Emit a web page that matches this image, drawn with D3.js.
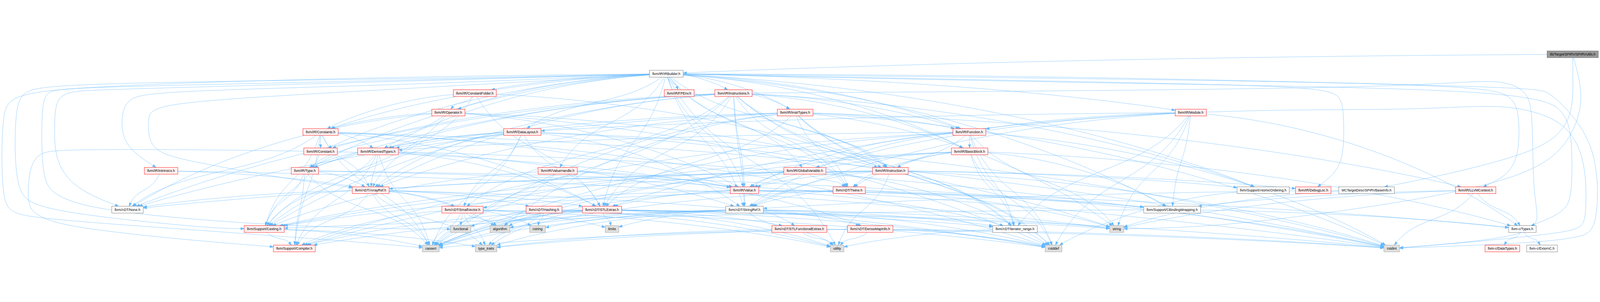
<!DOCTYPE html>
<html>
<head>
<meta charset="utf-8">
<title>lib/Target/SPIRV/SPIRVUtils.h include graph</title>
<script src="https://cdn.jsdelivr.net/npm/d3@7"></script>
<style>
  html, body { margin: 0; padding: 0; background: #ffffff; overflow: hidden; }
  svg { display: block; width: 100vw; height: 100vh; }
  .node text { font-family: "Liberation Sans", Arial, Helvetica, sans-serif; font-size: 13px; fill: #000; }
</style>
</head>
<body>
<svg id="graph"></svg>
<script>
// headers in the graph
var nodeIds = ["root", "irb", "cfold", "fpenv", "instrs", "oper", "itypes", "module", "consts", "dlayout",
    "func", "const", "dtypes", "bb", "type", "intr", "vh", "gvar", "instr", "aref",
    "value", "twine", "atomic", "dloc", "spbase", "ctx", "none", "svec", "hash", "stlx",
    "sref", "cbw", "cast", "functional", "algorithm", "cstring", "limits", "stlfx", "dmi", "irange",
    "string", "ctypes", "compiler", "cassert", "ttraits", "utility", "cstddef", "cstdint", "datatypes", "externc"];

var nodeLabels = ["lib/Target/SPIRV/SPIRVUtils.h", "llvm/IR/IRBuilder.h", "llvm/IR/ConstantFolder.h", "llvm/IR/FPEnv.h",
    "llvm/IR/Instructions.h", "llvm/IR/Operator.h", "llvm/IR/InstrTypes.h", "llvm/IR/Module.h", "llvm/IR/Constants.h",
    "llvm/IR/DataLayout.h", "llvm/IR/Function.h", "llvm/IR/Constant.h", "llvm/IR/DerivedTypes.h", "llvm/IR/BasicBlock.h",
    "llvm/IR/Type.h", "llvm/IR/Intrinsics.h", "llvm/IR/ValueHandle.h", "llvm/IR/GlobalVariable.h", "llvm/IR/Instruction.h",
    "llvm/ADT/ArrayRef.h", "llvm/IR/Value.h", "llvm/ADT/Twine.h", "llvm/Support/AtomicOrdering.h", "llvm/IR/DebugLoc.h",
    "MCTargetDesc/SPIRVBaseInfo.h", "llvm/IR/LLVMContext.h", "llvm/ADT/None.h", "llvm/ADT/SmallVector.h", "llvm/ADT/Hashing.h",
    "llvm/ADT/STLExtras.h", "llvm/ADT/StringRef.h", "llvm/Support/CBindingWrapping.h", "llvm/Support/Casting.h", "functional",
    "algorithm", "cstring", "limits", "llvm/ADT/STLFunctionalExtras.h", "llvm/ADT/DenseMapInfo.h", "llvm/ADT/iterator_range.h",
    "string", "llvm-c/Types.h", "llvm/Support/Compiler.h", "cassert", "type_traits", "utility", "cstddef", "cstdint",
    "llvm-c/DataTypes.h", "llvm-c/ExternC.h"];

// root = file itself, red = truncated, plain = complete, sys = system header
var nodeKinds = ["root", "plain", "red", "red", "red", "red", "red", "red", "red", "red",
    "red", "red", "red", "red", "red", "red", "red", "red", "red", "red",
    "red", "red", "plain", "red", "plain", "red", "plain", "red", "red", "red",
    "plain", "plain", "red", "sys", "sys", "sys", "sys", "red", "red", "plain",
    "sys", "plain", "red", "sys", "sys", "sys", "sys", "sys", "red", "plain"];

var nodeRanks = [0, 1, 2, 2, 2, 3, 3, 3, 4, 4,
    4, 5, 5, 5, 6, 6, 6, 6, 6, 7,
    7, 7, 7, 7, 7, 7, 8, 8, 8, 8,
    8, 8, 9, 9, 9, 9, 9, 9, 9, 9,
    9, 9, 10, 10, 10, 10, 10, 10, 10, 10];

// #include lists
var includes = {
    root: ["irb", "spbase", "string"],
    irb: ["ctypes", "aref", "none", "stlx", "sref", "twine", "bb", "const", "cfold", "consts", "dlayout", "dloc",
        "dtypes", "fpenv", "func", "gvar", "itypes", "instr", "instrs", "intr", "ctx", "module", "oper", "type",
        "value", "vh", "atomic", "cbw", "cast", "cassert", "cstdint", "functional", "utility"],
    cfold: ["oper", "consts", "instr", "aref", "stlx"],
    oper: ["none", "consts", "instr", "type", "value", "cast", "cstddef"],
    consts: ["aref", "none", "stlx", "const", "dtypes", "value", "cast", "compiler", "cassert", "cstddef", "cstdint"],
    const: ["value", "cast", "compiler"],
    dtypes: ["aref", "stlx", "sref", "type", "cast", "compiler", "cassert", "cstdint"],
    type: ["aref", "cbw", "cast", "compiler", "cassert", "cstdint"],
    intr: ["none", "aref", "string"],
    dlayout: ["aref", "stlx", "svec", "sref", "dtypes", "type", "cast", "cassert", "cstdint", "string"],
    vh: ["dmi", "value", "cast", "cassert"],
    instrs: ["aref", "none", "stlx", "svec", "sref", "twine", "irange", "bb", "const", "dtypes", "func", "itypes",
        "instr", "type", "value", "atomic", "cast", "cassert", "cstddef", "cstdint"],
    itypes: ["aref", "none", "stlx", "twine", "irange", "dtypes", "func", "instr", "ctx", "algorithm", "cassert",
        "cstddef", "cstdint", "string"],
    module: ["ctypes", "stlx", "sref", "irange", "dlayout", "func", "gvar", "cbw", "cstddef", "cstdint", "string"],
    func: ["sref", "twine", "irange", "bb", "dtypes", "value", "compiler", "cassert", "cstddef", "cstdint", "string"],
    bb: ["ctypes", "twine", "irange", "instr", "value", "cbw", "compiler", "cassert", "cstddef"],
    gvar: ["twine", "value", "cast", "cassert", "cstddef"],
    instr: ["aref", "none", "sref", "dloc", "value", "atomic", "cast", "cstdint", "utility"],
    value: ["ctypes", "stlx", "sref", "irange", "cbw", "cast", "cassert"],
    twine: ["svec", "sref", "cassert", "cstdint", "string"],
    aref: ["hash", "none", "svec", "stlx", "compiler", "algorithm", "cassert", "cstddef", "ttraits"],
    svec: ["compiler", "algorithm", "cassert", "cstddef", "cstring", "functional", "limits", "ttraits", "utility"],
    stlx: ["stlfx", "irange", "compiler", "algorithm", "cassert", "cstddef", "cstdint", "functional", "limits",
        "ttraits", "utility"],
    hash: ["ttraits", "algorithm", "cassert", "cstring", "string", "utility"],
    sref: ["dmi", "stlfx", "irange", "compiler", "algorithm", "cassert", "cstddef", "cstring", "limits", "string",
        "ttraits", "utility"],
    cast: ["compiler", "ttraits", "cassert"],
    stlfx: ["ttraits", "utility", "cstdint"],
    dmi: ["cassert", "cstddef", "cstdint", "ttraits", "utility"],
    irange: ["utility"],
    cbw: ["ctypes", "cast"],
    atomic: ["cstddef"],
    ctx: ["ctypes", "cbw", "cstdint", "string"],
    ctypes: ["datatypes", "externc"],
    spbase: ["sref", "string"]
};

// layout: node centre x, and bend points [x, rank] of the routed edges
var nodeX = [5995, 2540, 1810, 2589, 2796, 1709, 3031, 4539, 1222, 1991,
    3695, 1222, 1441, 3696, 1162, 614, 2126, 3068, 3394, 1413,
    2838, 3237, 4815, 5006, 5209, 5625, 486, 1763, 2074, 2295,
    2838, 4468, 1007, 1756, 1906, 2049, 2333, 3047, 3317, 3869,
    4257, 5803, 1122, 1642, 1853, 3191, 4016, 5305, 5727, 5878];

var detours = {
    "irb>cassert": [[1500, 1.15], [60, 1.7], [5, 2.6], [5, 7.9], [60, 8.4], [700, 9.0], [1400, 9.7]],
    "irb>cast": [[1500, 1.28], [172, 1.5], [83, 1.96], [56, 2.9], [56, 7.05], [128, 7.85], [383, 8.4], [800, 8.95]],
    "irb>functional": [[1500, 1.35], [255, 1.7], [178, 1.9], [158, 2.6], [158, 6.4], [204, 7.3], [383, 8.1], [1000, 8.8], [1500, 9.0]],
    "irb>none": [[1500, 1.4], [383, 1.82], [255, 1.9], [210, 2.4], [208, 3.8], [208, 5.2], [255, 6.5], [351, 7.3]],
    "irb>intr": [[1500, 1.6], [574, 1.9], [485, 2.3], [464, 3.1], [464, 4.1], [497, 4.95]],
    "irb>aref": [[1500, 1.8], [700, 2.4], [574, 2.85], [565, 3.3], [565, 4.4], [606, 5.15], [765, 5.6], [1000, 6.2], [1200, 6.6]],
    "const>compiler": [[700, 4.9], [210, 4.9], [147, 5.1], [115, 5.8], [107, 6.8], [107, 7.9], [147, 8.35], [255, 8.9], [700, 9.55]],
    "irb>cstdint": [[4000, 1.1], [5845, 1.7], [5901, 1.9], [5986, 2.95], [6093, 5.0], [6093, 9.1], [6021, 9.4], [5880, 9.7]],
    "module>cstdint": [[4900, 2.85], [5387, 2.85], [5634, 2.65], [5775, 2.7], [5915, 3.2], [6000, 4.1], [6047, 5.8], [6047, 8.4], [6028, 9.0], [5915, 9.25], [5634, 9.65]],
    "irb>ctypes": [[4200, 1.5], [5845, 1.8], [5972, 2.95], [5993, 4.45], [5993, 7.1], [5972, 8.1]],
    "irb>ctx": [[4200, 1.25], [5634, 1.57], [5761, 2.1], [5792, 2.95], [5792, 5.3], [5739, 6.3]],
    "instrs>cstdint": [[4000, 1.9], [5282, 1.7], [5634, 1.37], [5739, 1.4], [5824, 1.9], [5843, 3.1], [5843, 7.1], [5866, 8.3], [5845, 9.4]],
    "irb>dloc": [[4500, 1.5], [5070, 1.7], [5113, 2.3], [5123, 3.1], [5123, 5.2], [5092, 6.1]],
    "root>spbase": [[5996, 1.2], [5996, 2.9], [5951, 4.1], [5845, 5.0], [5634, 5.8], [5422, 6.45]],
    "root>string": [[6025, 1.5], [6030, 2.8], [5980, 4.6], [5850, 6.1], [5500, 7.3], [5000, 8.3], [4600, 8.9]]
};

var W = 6099, H = 773;
var edgeColor = "#63b8ff";
var kindStyle = {
    root: { fill: "#999999", stroke: "#666666" },
    plain: { fill: "#ffffff", stroke: "#666666" },
    red: { fill: "#fff0f0", stroke: "#ff0000" },
    sys: { fill: "#e0e0e0", stroke: "#999999" }
};

var x = d3.scaleLinear().domain([0, W]).range([0, W]);
var y = d3.scaleLinear().domain([0, 10]).range([18, 758]);

// the drawing is laid out in 6099x773 units and scaled to the window
var svg = d3.select("#graph")
    .attr("viewBox", "0 0 " + W + " " + H)
    .attr("preserveAspectRatio", "xMidYMid meet");
svg.append("rect").attr("width", W).attr("height", H).attr("fill", "#ffffff");
var edgeLayer = svg.append("g");
var nodeLayer = svg.append("g");

var nodes = nodeIds.map(function(id, i) {
    return { id: id, label: nodeLabels[i], kind: nodeKinds[i], cx: x(nodeX[i]), cy: y(nodeRanks[i]), hh: 13 };
});
var byId = {};
nodes.forEach(function(n) { byId[n.id] = n; });

// boxes: draw text first so the box can be sized from it
var ng = nodeLayer.selectAll("g.node").data(nodes).join("g")
    .attr("class", "node")
    .attr("transform", function(d) { return "translate(" + d.cx + "," + d.cy + ")"; });
var boxes = ng.append("rect");
ng.append("text")
    .attr("text-anchor", "middle")
    .attr("dy", "0.36em")
    .text(function(d) { return d.label; })
    .each(function(d) { d.hw = this.getComputedTextLength() / 2 + 11; });
boxes.attr("x", function(d) { return -d.hw; })
    .attr("y", function(d) { return -d.hh; })
    .attr("width", function(d) { return 2 * d.hw; })
    .attr("height", function(d) { return 2 * d.hh; })
    .attr("fill", function(d) { return kindStyle[d.kind].fill; })
    .attr("stroke", function(d) { return kindStyle[d.kind].stroke; })
    .attr("stroke-width", 1.2);

// point where the line from the box centre towards p leaves the box
function clip(n, p) {
    var dx = p[0] - n.cx, dy = p[1] - n.cy;
    var t = Math.min(n.hw / Math.max(Math.abs(dx), 1e-6), n.hh / Math.max(Math.abs(dy), 1e-6), 1);
    return [n.cx + dx * t, n.cy + dy * t];
}

var edges = [];
Object.keys(includes).forEach(function(src) {
    includes[src].forEach(function(tgt) { edges.push({ source: src, target: tgt }); });
});

var basis = d3.line().curve(d3.curveBasis);
var arrowLen = 13, arrowHalf = 4.8;

edges.forEach(function(e) {
    var s = byId[e.source], t = byId[e.target];
    var key = e.source + ">" + e.target;
    var mids;
    if (detours[key]) {
        mids = detours[key].map(function(p) { return [x(p[0]), y(p[1])]; });
    } else {
        var dx = t.cx - s.cx, dy = t.cy - s.cy;
        if (Math.abs(dx) > 2.5 * dy) {
            // long sideways edges leave the box flat and drop near the target
            mids = [[s.cx + dx * 0.45, s.cy + dy * 0.12], [t.cx - dx * 0.22, t.cy - dy * 0.45]];
        } else {
            mids = [[s.cx + dx * 0.3, s.cy + dy * 0.55], [t.cx - dx * 0.3, t.cy - dy * 0.55]];
        }
    }
    var a = clip(s, mids[0]);
    var last = mids[mids.length - 1];
    var b = clip(t, last);
    var ux = b[0] - last[0], uy = b[1] - last[1];
    var len = Math.hypot(ux, uy) || 1;
    ux /= len; uy /= len;
    var base = [b[0] - ux * arrowLen, b[1] - uy * arrowLen];

    var d;
    if (detours[key]) {
        d = basis([a].concat(mids, [base]));
    } else {
        d = "M" + a[0] + "," + a[1] + "C" + mids[0][0] + "," + mids[0][1] + " " +
            mids[1][0] + "," + mids[1][1] + " " + base[0] + "," + base[1];
    }
    edgeLayer.append("path")
        .attr("d", d)
        .attr("fill", "none")
        .attr("stroke", edgeColor)
        .attr("stroke-width", 1);
    edgeLayer.append("polygon")
        .attr("points", [
            [b[0], b[1]],
            [base[0] - uy * arrowHalf, base[1] + ux * arrowHalf],
            [base[0] + uy * arrowHalf, base[1] - ux * arrowHalf]
        ].map(function(p) { return p.join(","); }).join(" "))
        .attr("fill", edgeColor)
        .attr("stroke", edgeColor)
        .attr("stroke-width", 1);
});
</script>
</body>
</html>
